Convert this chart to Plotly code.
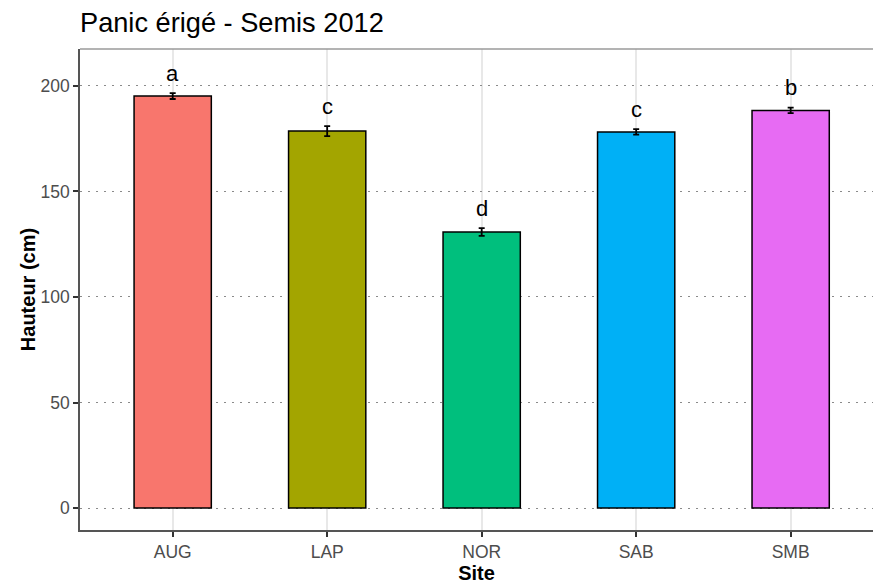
import plotly.graph_objects as go

# Mean plant height per site with standard errors and group letters
sites = ["AUG", "LAP", "NOR", "SAB", "SMB"]
hauteur = [195.2, 178.6, 130.8, 178.2, 188.4]
erreur = [1.4, 2.4, 1.8, 1.3, 1.3]
lettres = ["a", "c", "d", "c", "b"]
couleurs = ["#F8766D", "#A3A500", "#00BF7D", "#00B0F6", "#E76BF3"]
y_ticks = [0, 50, 100, 150, 200]

fig = go.Figure()
fig.add_trace(go.Bar(
    x=sites, y=hauteur, width=0.5,
    marker=dict(color=couleurs, line=dict(color="black", width=1.5)),
    error_y=dict(type="data", array=erreur, color="black", thickness=1.8, width=3),
    showlegend=False,
))

for s, h, e, l in zip(sites, hauteur, erreur, lettres):
    fig.add_annotation(x=s, y=h + e, text=l, showarrow=False, yanchor="middle",
                       yshift=20, font=dict(size=22, color="black"))

# top border of the panel
fig.add_shape(type="line", xref="paper", yref="paper", x0=0, x1=1, y0=1, y1=1,
              line=dict(color="#9a9a9a", width=1.5))

fig.update_layout(
    width=873, height=586,
    margin=dict(l=80, r=0, t=49, b=56),
    plot_bgcolor="white", paper_bgcolor="white",
    font=dict(family="Liberation Sans, Arial, sans-serif"),
    title=dict(text="Panic érigé - Semis 2012", x=80 / 873, xanchor="left",
               y=1 - 22 / 586, yanchor="middle", font=dict(size=27.2, color="black")),
    xaxis=dict(
        categoryorder="array", categoryarray=sites,
        range=[-0.6, 4.533],
        showgrid=True, gridcolor="#e8e8e8", gridwidth=1.5,
        showline=True, linecolor="#555555", linewidth=1.5,
        ticks="outside", ticklen=5, tickcolor="#333333", tickwidth=1.5,
        tickfont=dict(size=17.5, color="#4d4d4d"),
        title=dict(text="<b>Site</b>", font=dict(size=20, color="black"), standoff=3),
        zeroline=False,
    ),
    yaxis=dict(
        range=[-10.4, 217.5],
        tickvals=y_ticks,
        showgrid=True, gridcolor="#8a8a8a", gridwidth=1.3, griddash="2px,6px",
        showline=True, linecolor="#555555", linewidth=1.5,
        ticks="outside", ticklen=5, tickcolor="#333333", tickwidth=1.5,
        tickfont=dict(size=17.5, color="#4d4d4d"),
        title=dict(text="<b>Hauteur (cm)</b>", font=dict(size=20, color="black"), standoff=0),
        zeroline=False,
    ),
)

fig.write_html("out.html")
